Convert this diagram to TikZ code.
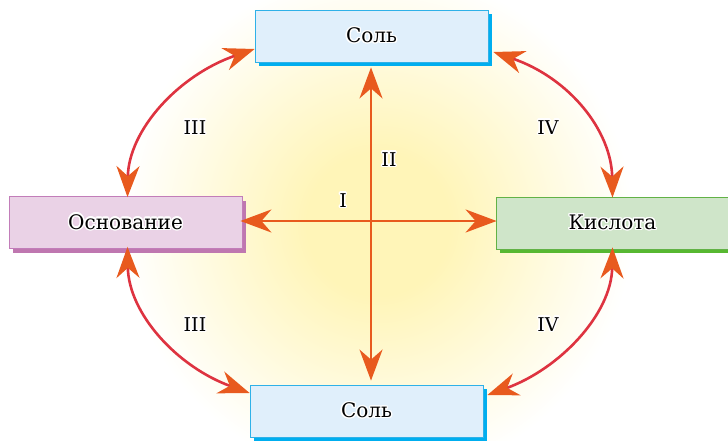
\documentclass[tikz,border=0pt]{standalone}
\usepackage{fontspec}
\setmainfont{DejaVu Serif}
\usepackage{contour}
\contourlength{1.4pt}
\usetikzlibrary{arrows.meta, shadows}

\definecolor{saltfill}{HTML}{E0EFFB}
\definecolor{saltdraw}{HTML}{2FB1E8}
\definecolor{saltshade}{HTML}{00AEEF}
\definecolor{basefill}{HTML}{EAD2E6}
\definecolor{basedraw}{HTML}{C27DB9}
\definecolor{baseshade}{HTML}{BF77B0}
\definecolor{acidfill}{HTML}{CFE5C9}
\definecolor{aciddraw}{HTML}{62B246}
\definecolor{acidshade}{HTML}{57B831}
\definecolor{arrorange}{HTML}{E85A1E}
\definecolor{curvered}{HTML}{DE3340}
\definecolor{glowcore}{HTML}{FFF5B8}

% glow reaches white at half the radius of the filled circle
\pgfdeclareradialshading{glow}{\pgfpoint{0bp}{0bp}}{color(0bp)=(glowcore); color(3.5bp)=(glowcore); color(12.5bp)=(white); color(50bp)=(white)}

\begin{document}
\begin{tikzpicture}[
    x=1pt, y=-1pt,
    kite/.tip={Stealth[length=31pt, width=23pt, inset=10pt, color=arrorange]},
    classbox/.style={rectangle, minimum width=233pt, minimum height=52pt, line width=0.8pt,
        font=\fontsize{20}{24}\selectfont},
    saltbox/.style={classbox, fill=saltfill, draw=saltdraw,
        drop shadow={shadow xshift=4pt, shadow yshift=-4pt, fill=saltshade, opacity=1}},
    basebox/.style={classbox, fill=basefill, draw=basedraw,
        drop shadow={shadow xshift=4pt, shadow yshift=-4pt, fill=baseshade, opacity=1}},
    acidbox/.style={classbox, fill=acidfill, draw=aciddraw,
        drop shadow={shadow xshift=4pt, shadow yshift=-4pt, fill=acidshade, opacity=1}},
    straight/.style={kite-kite, line width=2.6pt, arrorange},
    bent/.style={kite-kite, line width=2.6pt, curvered},
    numeral/.style={font=\fontsize{19}{22}\selectfont}
]
\useasboundingbox (0,0) rectangle (728,441);

% Background glow
\begin{scope}
\clip (0,0) rectangle (728,441);
\fill[shading=glow] (378,224) circle (510);
\end{scope}

% Classes
\node[saltbox] (salt_top) at (371.5,36) {\contour{white}{Соль}};
\node[basebox] (base) at (125.5,222.5) {\contour{white}{Основание}};
\node[acidbox] (acid) at (612.5,223) {\contour{white}{Кислота}};
\node[saltbox] (salt_bot) at (366.5,411) {\contour{white}{Соль}};

\coordinate (cross) at (371,221);

% Straight arrows
\draw[straight] ([xshift=-2pt]base.east |- cross) -- ([xshift=1pt]acid.west |- cross);
\draw[straight] ([yshift=-5pt]cross |- salt_top.south) -- ([yshift=4pt]cross |- salt_bot.north);

% Curved arrows
\draw[bent] ([xshift=2pt, yshift=-1pt]base.north) .. controls +(1,-67) and +(-76,26) .. ([yshift=-13pt]salt_top.west);
\draw[bent] ([xshift=2pt, yshift=2pt]base.south) .. controls +(1,67) and +(-72,-26) .. ([yshift=18pt]salt_bot.west);
\draw[bent] ([yshift=-1pt]acid.north) .. controls +(-1,-67) and +(76,26) .. ([xshift=5pt, yshift=-16pt]salt_top.east);
\draw[bent] ([yshift=2pt]acid.south) .. controls +(-1,67) and +(72,-26) .. ([xshift=4pt, yshift=16pt]salt_bot.east);

% Labels
\node[numeral] (lab_i) at (343,201) {\contour{white}{I}};
\node[numeral] (lab_ii) at (389,160) {\contour{white}{II}};
\node[numeral] (lab_iii_up) at (195,128) {\contour{white}{III}};
\node[numeral] (lab_iii_dn) at (195,325) {\contour{white}{III}};
\node[numeral] (lab_iv_up) at (548,128) {\contour{white}{IV}};
\node[numeral] (lab_iv_dn) at (548,325) {\contour{white}{IV}};

\end{tikzpicture}
\end{document}
